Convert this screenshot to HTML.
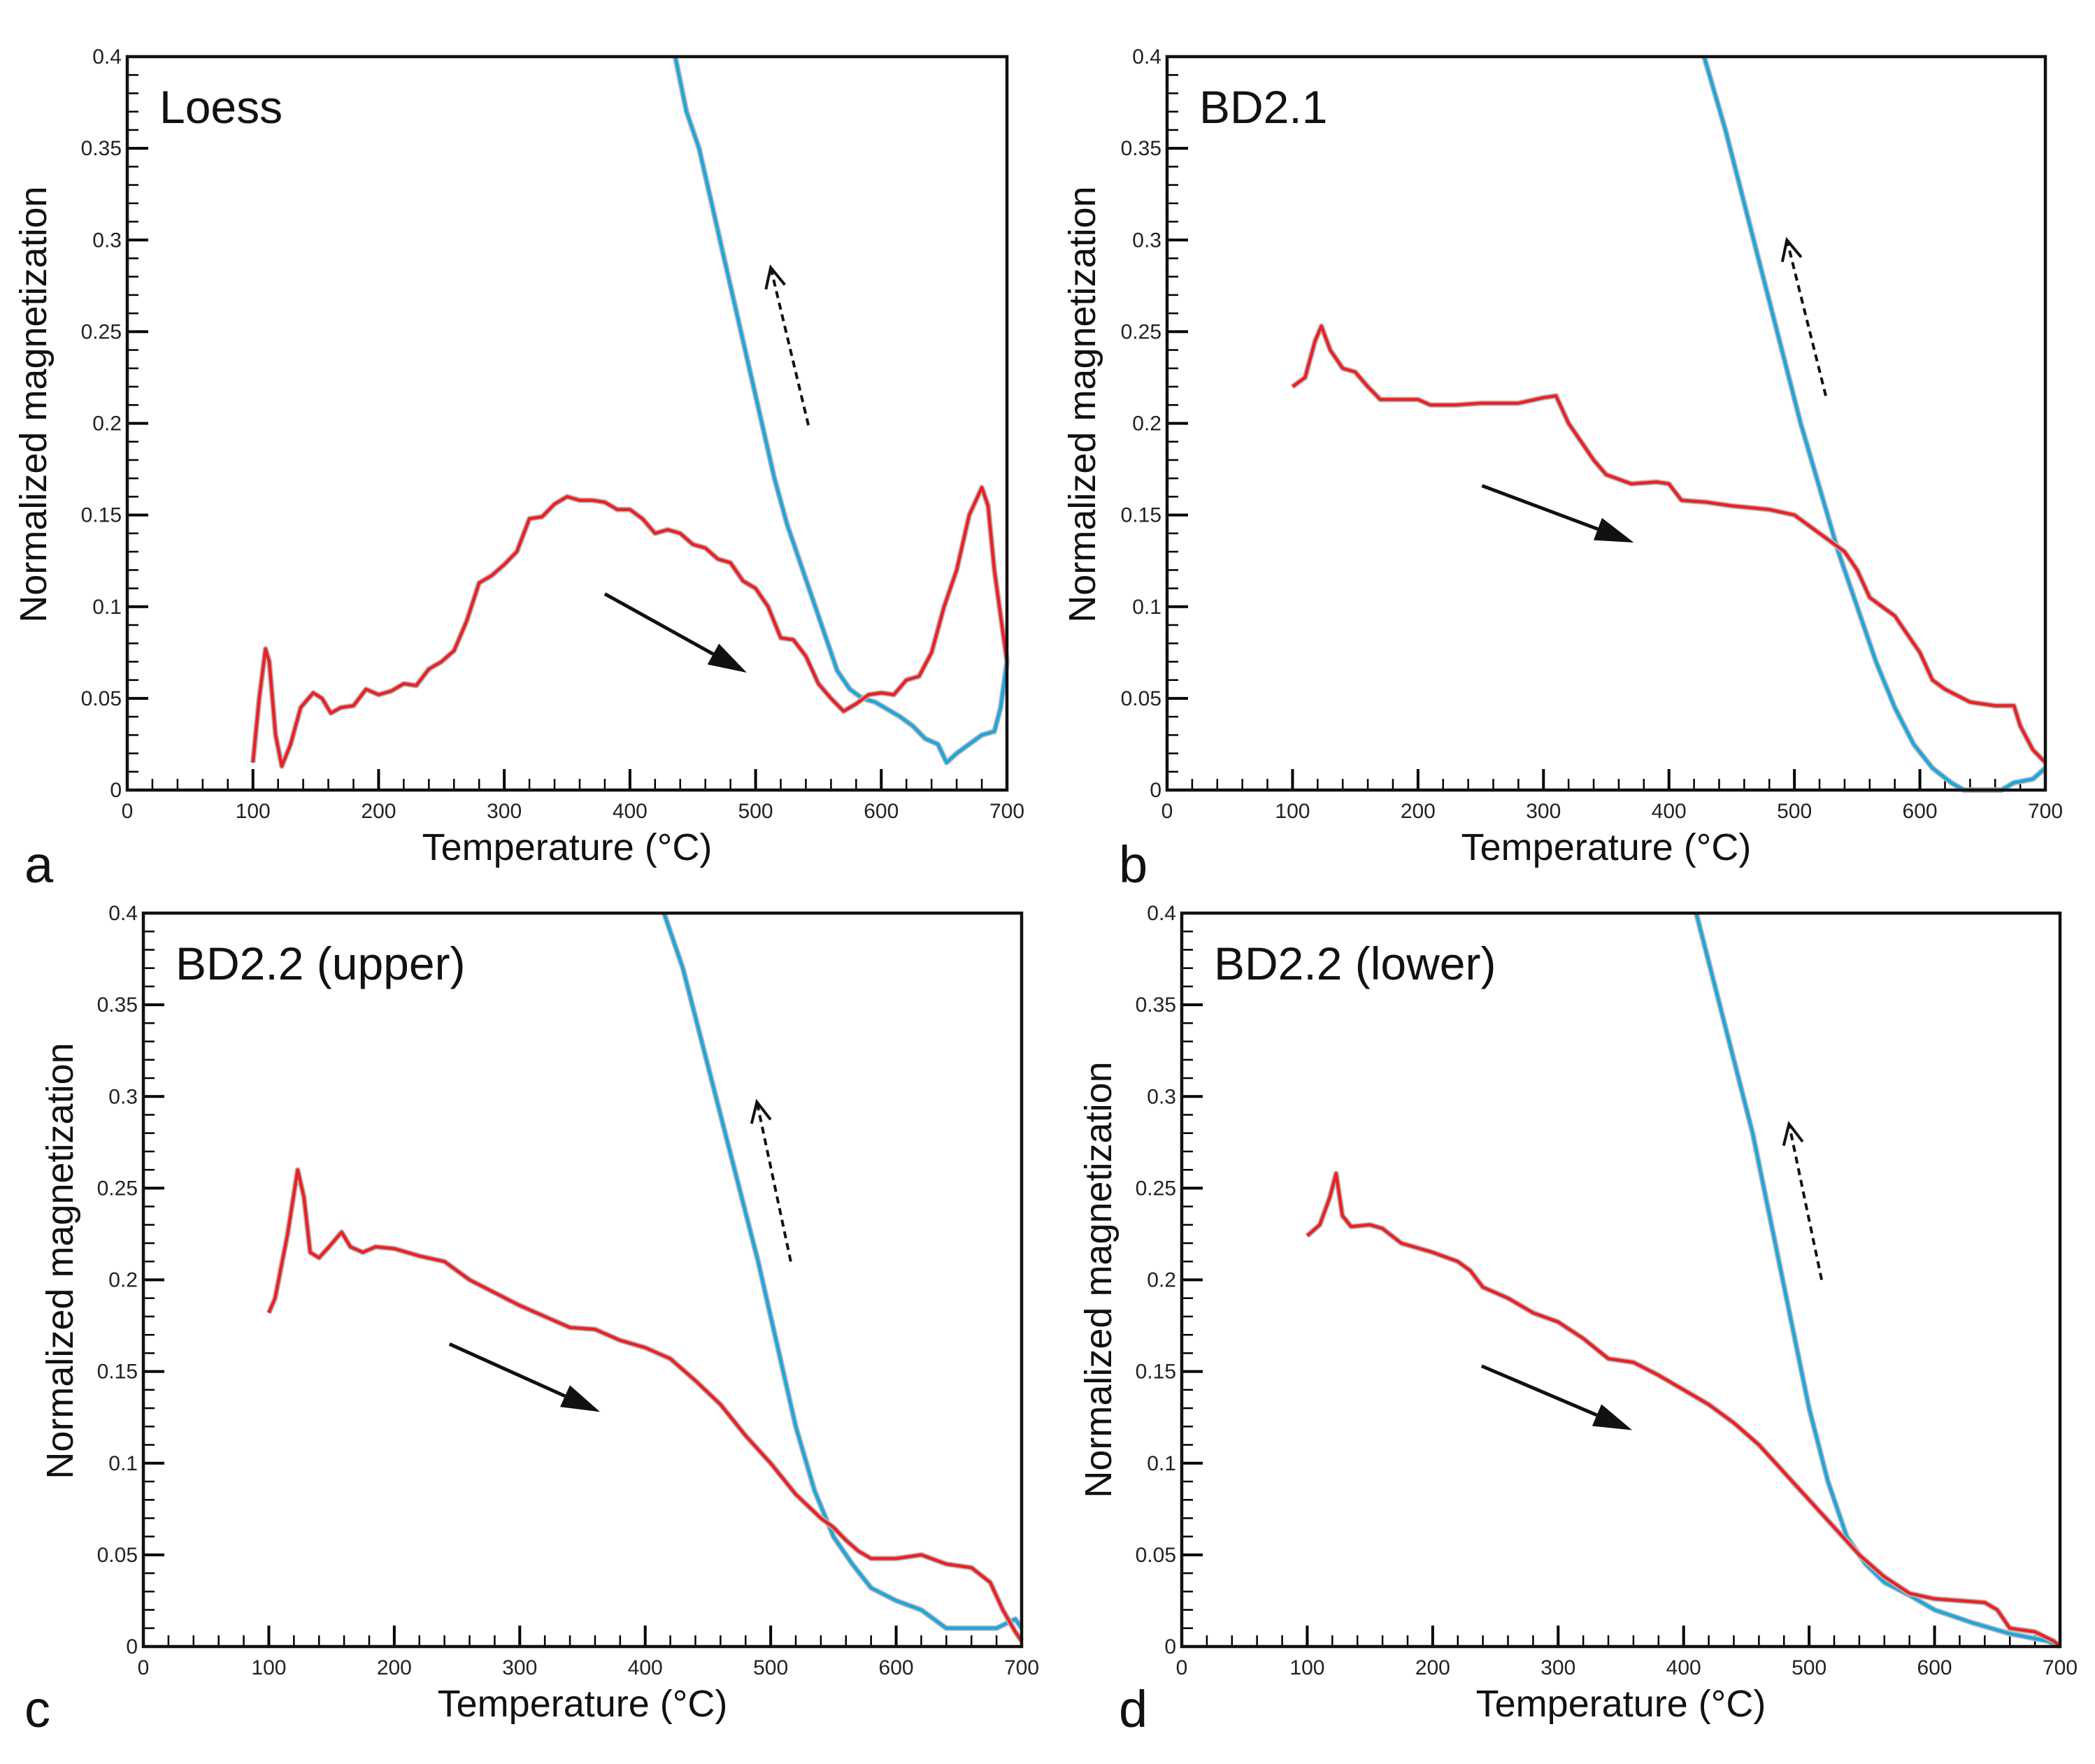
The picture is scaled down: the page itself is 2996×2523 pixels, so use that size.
<!DOCTYPE html>
<html><head><meta charset="utf-8"><style>
html,body{margin:0;padding:0;background:#fff;}
svg{display:block;font-family:"Liberation Sans",Arial,sans-serif;}
</style></head>
<body>
<svg id="fig" width="2996" height="2523" viewBox="0 0 2996 2523" xmlns="http://www.w3.org/2000/svg"></svg>
<script>
// ---- data ----
const xTicks=[0,100,200,300,400,500,600,700];
const yTicks=[0,0.05,0.1,0.15,0.2,0.25,0.3,0.35,0.4];
const yTickLabels=["0","0.05","0.1","0.15","0.2","0.25","0.3","0.35","0.4"];
const panelTitles=["Loess","BD2.1","BD2.2 (upper)","BD2.2 (lower)"];
const panelLetters=["a","b","c","d"];

const aHeatT=[100,105,110,113,118,123,130,138,148,155,162,170,180,190,200,210,220,230,240,250,260,270,280,290,300,310,320,330,340,350,360,370,380,390,400,410,420,430,440,450,460,470,480,490,500,510,520,530,540,550,560,570,580,590,600,610,620,630,640,650,660,670,680,685,690,700];
const aHeatM=[0.015,0.05,0.077,0.07,0.03,0.013,0.025,0.045,0.053,0.05,0.042,0.045,0.046,0.055,0.052,0.054,0.058,0.057,0.066,0.07,0.076,0.092,0.113,0.117,0.123,0.13,0.148,0.149,0.156,0.16,0.158,0.158,0.157,0.153,0.153,0.148,0.14,0.142,0.14,0.134,0.132,0.126,0.124,0.114,0.11,0.1,0.083,0.082,0.073,0.058,0.05,0.043,0.047,0.052,0.053,0.052,0.06,0.062,0.075,0.1,0.12,0.15,0.165,0.155,0.12,0.07];
const aCoolT=[436,445,455,465,475,485,495,505,515,525,535,545,555,565,575,585,595,605,615,625,635,645,652,660,670,680,690,695,700];
const aCoolM=[0.4,0.37,0.35,0.32,0.29,0.26,0.23,0.2,0.17,0.145,0.125,0.105,0.085,0.065,0.055,0.05,0.048,0.044,0.04,0.035,0.028,0.025,0.015,0.02,0.025,0.03,0.032,0.045,0.07];

const bHeatT=[100,110,118,123,130,140,150,160,170,200,210,230,250,280,300,310,320,330,340,350,370,390,400,410,430,450,480,500,520,540,550,560,570,580,590,600,610,620,640,660,675,680,690,700];
const bHeatM=[0.22,0.225,0.245,0.253,0.24,0.23,0.228,0.22,0.213,0.213,0.21,0.21,0.211,0.211,0.214,0.215,0.2,0.19,0.18,0.172,0.167,0.168,0.167,0.158,0.157,0.155,0.153,0.15,0.14,0.13,0.12,0.105,0.1,0.095,0.085,0.075,0.06,0.055,0.048,0.046,0.046,0.035,0.022,0.015];
const bCoolT=[428,445,460,475,490,505,520,535,550,565,580,595,610,625,635,665,675,690,700];
const bCoolM=[0.4,0.36,0.32,0.28,0.24,0.2,0.165,0.13,0.1,0.07,0.045,0.025,0.012,0.004,0,0,0.004,0.006,0.012];

const cHeatT=[100,105,115,123,128,133,140,148,158,165,175,185,200,220,240,260,280,300,320,340,360,380,400,420,440,460,480,500,520,540,550,560,570,580,600,620,640,660,675,685,695,700];
const cHeatM=[0.182,0.19,0.225,0.26,0.245,0.215,0.212,0.218,0.226,0.218,0.215,0.218,0.217,0.213,0.21,0.2,0.193,0.186,0.18,0.174,0.173,0.167,0.163,0.157,0.145,0.132,0.115,0.1,0.083,0.07,0.065,0.058,0.052,0.048,0.048,0.05,0.045,0.043,0.035,0.02,0.008,0.003];
const cCoolT=[415,430,445,460,475,490,505,520,535,550,565,580,600,620,640,660,680,695,700];
const cCoolM=[0.4,0.37,0.33,0.29,0.25,0.21,0.165,0.12,0.085,0.06,0.045,0.032,0.025,0.02,0.01,0.01,0.01,0.015,0.01];

const dHeatT=[100,110,118,123,128,135,150,160,175,200,220,230,240,260,280,300,320,340,360,380,400,420,440,460,480,500,520,540,560,580,600,620,640,650,660,680,695,700];
const dHeatM=[0.224,0.23,0.245,0.258,0.235,0.229,0.23,0.228,0.22,0.215,0.21,0.205,0.196,0.19,0.182,0.177,0.168,0.157,0.155,0.148,0.14,0.132,0.122,0.11,0.095,0.08,0.065,0.05,0.038,0.029,0.026,0.025,0.024,0.02,0.01,0.008,0.003,0];
const dCoolT=[410,425,440,455,470,485,500,515,530,545,560,580,600,630,660,690,700];
const dCoolM=[0.4,0.36,0.32,0.28,0.23,0.18,0.13,0.09,0.06,0.045,0.035,0.028,0.02,0.013,0.007,0.003,0];

const heatT=[aHeatT,bHeatT,cHeatT,dHeatT], heatM=[aHeatM,bHeatM,cHeatM,dHeatM];
const coolT=[aCoolT,bCoolT,cCoolT,dCoolT], coolM=[aCoolM,bCoolM,cCoolM,dCoolM];
// arrows [T0,M0,T1,M1]
const solidArrows=[[380,0.107,493,0.064],[251,0.166,372,0.135],[244,0.165,364,0.128],[239,0.153,359,0.118]];
const dashArrows=[[542,0.199,512,0.285],[525,0.215,494,0.3],[516,0.21,489,0.297],[510,0.2,484,0.285]];

// ---- layout ----
const boxes=[{x:182,y:81,w:1258,h:1049,yt:48,yo:-27,lx:35,ly:1262},{x:1669,y:81,w:1256,h:1049,yt:1548,yo:-27,lx:1600,ly:1262},
{x:205,y:1306,w:1256,h:1049,yt:86,yo:-27,lx:35,ly:2470},{x:1690,y:1306,w:1256,h:1049,yt:1571,yo:0,lx:1600,ly:2470}];
const NS="http://www.w3.org/2000/svg";
const svg=document.getElementById('fig');
function mk(t,a,p){const e=document.createElementNS(NS,t);for(const k in a)e.setAttribute(k,a[k]);(p||svg).appendChild(e);return e;}

boxes.forEach((b,i)=>{
  const g=mk('g',{});
  
  
  const sx=t=>b.x+t/700*b.w, sy=m=>b.y+b.h-m/0.4*b.h;
  for(let t=0;t<=700;t+=20){const maj=t%100===0;mk('line',{x1:sx(t),x2:sx(t),y1:b.y+b.h,y2:b.y+b.h-(maj?30:16),stroke:'#000','stroke-width':maj?4:2.5},g);}
  for(let k=0;k<=40;k++){const m=k*0.01;const maj=k%5===0;mk('line',{x1:b.x,x2:b.x+(maj?30:16),y1:sy(m),y2:sy(m),stroke:'#000','stroke-width':maj?4:2.5},g);}
  xTicks.forEach(t=>{const e=mk('text',{x:sx(t),y:b.y+b.h+40,'font-size':30,'text-anchor':'middle',fill:'#222'},g);e.textContent=t;
    
    });
  yTicks.forEach((m,k)=>{const e=mk('text',{x:b.x-8,y:sy(m)+10,'font-size':30,'text-anchor':'end',fill:'#222'},g);e.textContent=yTickLabels[k];
    
    });
  const path=(T,M)=>T.map((t,j)=>(j?'L':'M')+sx(t).toFixed(1)+','+sy(M[j]).toFixed(1)).join('');
  [[coolT[i],coolM[i],'#1aa7df','cooling-curve'],[heatT[i],heatM[i],'#ee2024','heating-curve']].forEach(([T,M,c,n])=>{
    mk('path',{d:path(T,M),fill:'none',stroke:'#b8b8b8','stroke-width':8,'stroke-linejoin':'round'},g);
    const p=mk('path',{d:path(T,M),fill:'none',stroke:c,'stroke-width':4.5,'stroke-linejoin':'round'},g);
    
    
  });
  const r=mk('rect',{x:b.x,y:b.y,width:b.w,height:b.h,fill:'none',stroke:'#111','stroke-width':4.5},g);
  
  
  const sa=solidArrows[i];const x0=sx(sa[0]),y0=sy(sa[1]),x1=sx(sa[2]),y1=sy(sa[3]);
  const ang=Math.atan2(y1-y0,x1-x0),L=55,W=17;
  const bx=x1-L*Math.cos(ang),by=y1-L*Math.sin(ang);
  mk('line',{x1:x0,y1:y0,x2:bx,y2:by,stroke:'#111','stroke-width':5},g);
  const ah=mk('polygon',{points:`${x1},${y1} ${bx+W*Math.sin(ang)},${by-W*Math.cos(ang)} ${bx-W*Math.sin(ang)},${by+W*Math.cos(ang)}`,fill:'#111'},g);
  
  
  const da=dashArrows[i];const u0=sx(da[0]),v0=sy(da[1]),u1=sx(da[2]),v1=sy(da[3]);
  const a2=Math.atan2(v1-v0,u1-u0);
  mk('line',{x1:u0,y1:v0,x2:u1,y2:v1,stroke:'#111','stroke-width':4,'stroke-dasharray':'10,7'},g);
  const dh=mk('polyline',{points:`${u1-32*Math.cos(a2-0.45)},${v1-32*Math.sin(a2-0.45)} ${u1},${v1} ${u1-32*Math.cos(a2+0.45)},${v1-32*Math.sin(a2+0.45)}`,fill:'none',stroke:'#111','stroke-width':4},g);
  
  
  const tt=mk('text',{x:b.x+46,y:b.y+95,'font-size':66,fill:'#111'},g);tt.textContent=panelTitles[i];
  
  
  const xt=mk('text',{x:b.x+b.w/2,y:b.y+b.h+100,'font-size':54,'text-anchor':'middle',fill:'#111'},g);xt.textContent='Temperature (°C)';
  
  
  const yt=mk('text',{x:0,y:0,'font-size':54,'text-anchor':'middle',fill:'#111',transform:`translate(${b.yt+18},${b.y+b.h/2+b.yo}) rotate(-90)`},g);yt.textContent='Normalized magnetization';
  
  
  const lt=mk('text',{x:b.lx,y:b.ly,'font-size':74,fill:'#111'},g);lt.textContent=panelLetters[i];
  
  
});
</script>
</body></html>
